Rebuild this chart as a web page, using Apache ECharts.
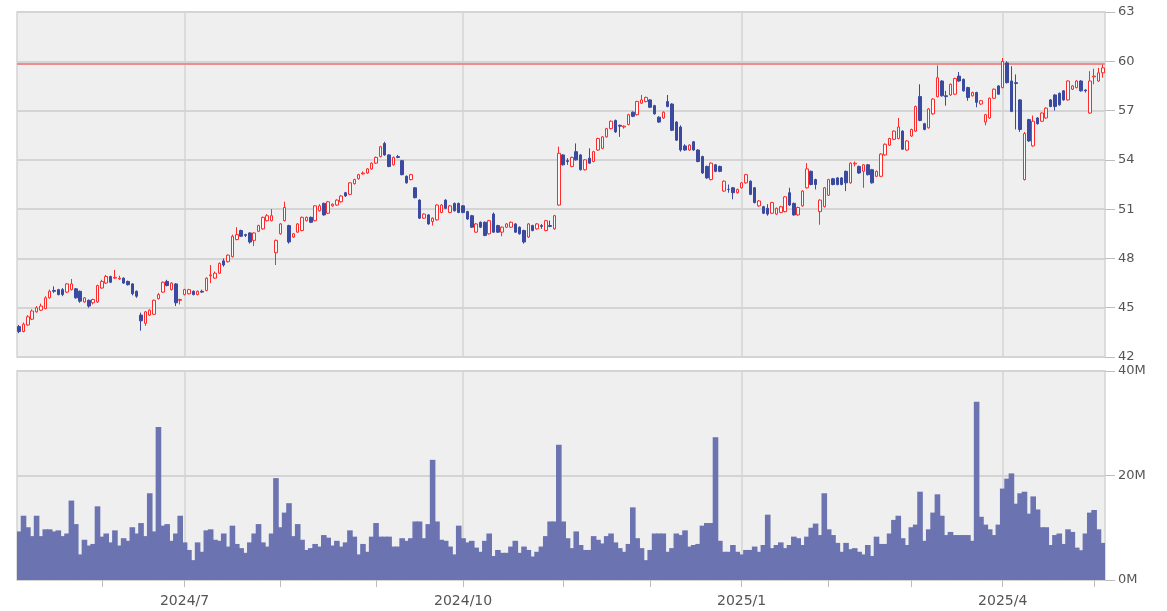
<!DOCTYPE html>
<html>
<head>
<meta charset="utf-8">
<script src="https://cdn.jsdelivr.net/npm/echarts@6/dist/echarts.min.js"></script>
<style>
  html, body { margin: 0; padding: 0; background: #ffffff; }
  #chart { width: 1167px; height: 611px; }
</style>
</head>
<body>
<div id="chart"></div>
<script>
// ---------- data ----------
const firstDay = '2024-05-06';
const lastDay = '2025-05-05';
const marketHolidays = ['2024-05-27','2024-06-19','2024-07-04','2024-09-02','2024-11-28','2024-12-25',
  '2025-01-01','2025-01-09','2025-01-20','2025-02-17','2025-04-18'];

// [open, close, low, high]
const ohlc = [
  [43.85,43.55,43.45,43.95],[43.55,44.0,43.5,44.1],[43.95,44.45,43.9,44.55],[44.3,44.8,44.25,44.9],[44.75,45.0,44.7,45.1],
  [44.85,45.1,44.8,45.25],[44.95,45.6,44.9,45.7],[45.6,46.0,45.55,46.1],[46.05,46.0,45.9,46.3],[46.1,45.8,45.75,46.15],
  [46.1,45.8,45.7,46.2],[45.95,46.45,45.9,46.5],[46.1,46.45,46.05,46.75],[46.15,45.6,45.55,46.2],[46.0,45.4,45.3,46.05],
  [45.35,45.6,45.3,45.65],[45.45,45.1,45.0,45.5],[45.3,45.5,45.2,45.55],[45.35,46.35,45.3,46.4],[46.2,46.6,46.15,46.7],
  [46.5,46.9,46.45,47.0],[46.9,46.55,46.5,46.95],[46.8,46.85,46.75,47.3],[46.75,46.8,46.7,46.95],[46.8,46.5,46.45,46.85],
  [46.6,46.4,46.35,46.65],[46.45,45.85,45.75,46.5],[46.0,45.7,45.6,46.05],[44.55,44.2,43.6,44.7],[44.05,44.75,43.9,44.8],
  [44.55,44.85,44.5,44.9],[44.6,45.45,44.55,45.5],[45.55,45.8,45.5,45.9],[45.95,46.55,45.9,46.6],[46.6,46.35,46.3,46.7],
  [46.1,46.5,46.05,46.55],[46.45,45.3,45.1,46.5],[45.45,45.5,45.2,45.55],[45.8,46.1,45.75,46.15],[45.85,46.1,45.8,46.15],
  [46.0,45.8,45.75,46.05],[45.8,46.0,45.75,46.05],[46.0,45.95,45.9,46.1],[46.05,46.8,46.0,46.85],[46.95,47.0,46.5,47.6],
  [46.8,47.1,46.75,47.2],[47.1,47.7,47.05,47.75],[47.85,47.6,47.5,48.0],[47.8,48.2,47.75,48.25],[48.1,49.35,48.05,49.45],
  [49.15,49.45,49.1,49.9],[49.7,49.35,49.3,49.75],[49.45,49.4,49.3,49.5],[49.55,49.0,48.9,49.6],[49.1,49.55,48.75,49.6],
  [49.65,50.0,49.6,50.05],[49.8,50.5,49.75,50.55],[50.3,50.6,50.25,50.7],[50.3,50.6,50.25,51.0],[48.35,49.1,47.6,49.15],
  [49.5,50.1,49.45,50.15],[50.3,51.1,50.25,51.45],[50.0,49.0,48.9,50.05],[49.3,49.5,49.25,49.55],[49.6,50.1,49.55,50.15],
  [49.7,50.5,49.65,50.55],[50.3,50.5,50.25,50.55],[50.5,50.2,50.15,50.55],[50.3,51.2,50.25,51.25],[50.9,51.2,50.85,51.3],
  [51.35,50.65,50.6,51.4],[50.75,51.45,50.7,51.5],[51.2,51.3,51.15,51.35],[51.25,51.55,51.2,51.6],[51.45,51.8,51.4,51.85],
  [52.0,51.8,51.75,52.05],[51.9,52.6,51.85,52.65],[52.55,52.8,52.5,52.85],[52.85,53.1,52.8,53.15],[53.15,53.2,53.1,53.3],
  [53.2,53.45,53.15,53.5],[53.45,53.8,53.4,53.85],[53.8,54.15,53.75,54.2],[54.2,54.8,54.15,54.85],[55.0,54.3,54.25,55.1],
  [54.3,53.6,53.55,54.35],[53.7,54.15,53.65,54.2],[54.2,54.15,54.1,54.3],[53.95,53.1,53.05,54.0],[53.0,52.6,52.55,53.05],
  [52.8,53.1,52.75,53.15],[52.3,51.7,51.65,52.35],[51.55,50.45,50.4,51.6],[50.45,50.7,50.4,50.75],[50.65,50.1,50.05,50.7],
  [50.25,50.45,50.0,50.5],[50.35,51.25,50.3,51.3],[50.8,51.25,50.75,51.3],[51.55,51.05,51.0,51.6],[50.8,51.2,50.75,51.25],
  [51.35,50.9,50.85,51.4],[51.35,50.8,50.75,51.4],[51.2,50.8,50.75,51.25],[50.85,50.4,50.35,50.9],[50.6,49.9,49.85,50.65],
  [49.6,50.1,49.55,50.15],[50.2,49.9,49.85,50.25],[50.2,49.4,49.35,50.25],[49.5,50.3,49.45,50.35],[50.7,49.6,49.55,50.8],
  [50.0,49.6,49.55,50.05],[49.6,49.9,49.35,49.95],[49.9,50.1,49.85,50.15],[49.9,50.2,49.85,50.25],[50.1,49.6,49.55,50.15],
  [49.9,49.5,49.45,49.95],[49.7,49.0,48.9,49.75],[49.3,50.1,49.25,50.15],[50.0,49.7,49.65,50.05],[49.8,50.1,49.75,50.15],
  [50.0,49.95,49.8,50.1],[49.7,50.3,49.65,50.35],[50.0,49.95,49.9,50.3],[49.8,50.6,49.75,50.65],[51.25,54.4,51.2,54.8],
  [54.3,53.7,53.65,54.35],[53.95,53.9,53.7,54.1],[53.6,54.15,53.55,54.2],[54.5,54.0,53.95,55.0],[54.3,53.4,53.35,54.35],
  [53.4,54.0,53.35,54.05],[54.1,53.8,53.75,54.7],[53.9,54.5,53.85,54.55],[54.6,55.3,54.55,55.35],[54.7,55.4,54.65,55.45],
  [55.4,55.9,55.35,55.95],[55.9,56.35,55.85,56.4],[56.4,55.7,55.65,56.45],[56.1,56.05,55.4,56.15],[56.0,56.05,55.9,56.1],
  [56.15,56.75,56.1,56.8],[56.9,56.65,56.6,56.95],[56.75,57.55,56.7,57.6],[57.45,57.65,57.4,57.95],[57.55,57.8,57.5,57.85],
  [57.65,57.2,57.15,57.7],[57.3,56.8,56.75,57.35],[56.6,56.3,56.25,56.65],[56.55,56.9,56.5,56.95],[57.55,57.25,57.2,57.95],
  [57.4,55.8,55.75,57.45],[56.3,55.2,55.15,56.35],[56.0,54.6,54.5,56.1],[54.85,54.6,54.55,54.95],[54.6,54.9,54.55,54.95],
  [55.1,54.6,54.55,55.15],[54.6,53.9,53.85,54.65],[54.2,53.2,53.15,54.25],[53.6,52.9,52.85,53.65],[52.8,53.8,52.75,53.85],
  [53.7,53.3,53.25,53.75],[53.6,53.3,53.25,53.65],[52.1,52.7,52.05,52.75],[52.2,52.2,52.0,52.5],[52.3,52.0,51.6,52.35],
  [52.0,52.2,51.95,52.25],[52.3,52.6,52.25,52.65],[52.6,53.1,52.55,53.15],[52.7,51.9,51.85,52.75],[52.3,51.4,51.35,52.35],
  [51.2,51.5,51.15,51.55],[51.15,50.75,50.7,51.2],[51.05,50.7,50.6,51.3],[50.75,51.4,50.7,51.45],[50.7,51.05,50.65,51.1],
  [50.8,51.15,50.75,51.2],[50.85,51.75,50.8,51.8],[52.0,51.25,51.2,52.3],[51.35,50.65,50.6,51.4],[50.65,51.1,50.6,51.15],
  [51.2,52.1,51.15,52.15],[52.3,53.45,52.25,53.8],[53.3,52.5,52.45,53.35],[52.8,52.5,52.2,52.85],[50.85,51.55,50.05,51.6],
  [51.15,52.3,51.1,52.35],[51.85,52.8,51.8,52.85],[52.85,52.5,52.45,52.9],[52.9,52.5,52.45,52.95],[52.9,52.5,52.45,52.95],
  [53.3,52.6,52.1,53.35],[52.6,53.8,52.55,53.85],[53.75,53.8,53.6,53.9],[53.6,53.2,53.15,53.65],[53.3,53.7,52.3,53.75],
  [53.7,53.1,53.05,53.75],[53.4,52.6,52.55,53.45],[53.0,53.3,52.95,53.35],[53.0,54.35,52.95,54.4],[54.3,54.95,54.25,55.0],
  [54.9,55.3,54.85,55.35],[55.25,55.75,55.2,55.8],[55.3,56.0,55.25,56.55],[55.75,54.65,54.6,55.8],[54.6,55.15,54.55,55.2],
  [55.45,55.85,55.4,55.9],[55.75,57.25,55.7,57.3],[57.85,56.4,56.35,58.6],[56.2,55.85,55.8,56.25],[55.95,57.1,55.9,57.15],
  [56.8,57.7,56.75,57.75],[57.85,59.0,57.8,59.75],[58.8,57.9,57.85,58.85],[57.9,57.85,57.3,58.2],[57.95,58.6,57.9,58.65],
  [58.0,58.95,57.95,59.0],[59.1,58.8,58.75,59.35],[58.9,58.2,58.15,58.95],[58.4,57.8,57.6,58.45],[57.9,58.1,57.85,58.15],
  [58.1,57.5,57.2,58.15],[57.4,57.6,57.35,57.65],[56.3,56.75,56.1,56.8],[56.55,57.75,56.5,57.8],[57.75,58.3,57.7,58.35],
  [58.5,58.0,57.95,58.55],[58.4,60.0,58.35,60.2],[59.9,58.7,58.65,60.0],[58.8,56.95,56.9,59.7],[58.7,58.65,55.85,59.2],
  [57.65,55.85,55.7,57.7],[52.8,55.6,52.75,55.7],[56.45,55.15,55.1,56.5],[54.85,56.35,54.8,56.7],[56.55,56.2,56.15,56.6],
  [56.35,56.85,56.3,56.9],[56.55,57.15,56.5,57.2],[57.65,57.25,57.2,57.7],[57.95,57.25,57.0,58.0],[58.05,57.35,57.3,58.1],
  [58.2,57.65,57.6,58.25],[57.65,58.8,57.6,58.85],[58.3,58.5,58.25,58.55],[58.4,58.8,58.35,58.85],[58.8,58.2,58.15,58.85],
  [58.25,58.2,58.1,58.3],[56.85,58.8,56.8,59.4],[59.05,59.1,58.6,59.55],[58.8,59.3,58.75,59.6],[59.3,59.6,59.0,59.8],
  [59.6,59.86,59.4,60.05]
];

// volume in millions
const volumeM = [
  9.3,12.3,10.1,8.4,12.3,8.4,9.7,9.7,9.3,9.5,
  8.4,8.9,15.2,10.7,4.9,7.7,6.6,6.9,14.1,8.3,
  8.9,7.2,9.5,6.6,8.0,7.5,10.1,8.9,10.9,8.4,
  16.6,9.3,29.3,10.4,10.7,7.5,8.9,12.3,7.2,5.75,
  3.8,7.2,5.4,9.5,9.7,7.7,7.5,8.9,6.4,10.4,
  6.9,6.1,5.2,7.2,8.9,10.7,7.2,6.4,8.9,19.5,
  10.1,12.9,14.7,8.4,10.7,7.7,5.75,6.1,6.9,6.4,
  8.6,8.1,6.6,7.5,6.4,7.2,9.5,8.3,4.9,6.9,
  5.4,8.3,10.9,8.3,8.3,8.3,6.4,6.4,
  8.0,7.5,8.0,11.2,11.2,8.0,10.7,23.0,11.2,7.7,
  7.5,6.4,4.9,10.4,8.0,7.2,7.5,6.2,5.4,7.5,
  8.9,4.6,5.75,5.2,5.2,6.4,7.5,5.2,6.4,5.75,
  4.5,5.4,6.4,8.4,11.2,11.2,25.9,11.2,8.0,6.1,
  9.3,6.7,5.75,5.75,8.4,7.7,7.0,8.4,8.9,7.2,
  6.1,5.4,6.9,13.9,8.0,6.1,3.8,5.75,8.9,8.9,
  8.9,5.4,6.1,8.9,8.6,9.5,6.4,6.7,6.9,10.4,
  10.9,10.9,27.3,7.5,5.4,5.4,6.7,5.4,4.9,5.75,
  5.75,6.4,5.4,6.7,12.5,6.1,6.7,7.2,
  6.1,6.7,8.3,8.0,6.7,8.3,10.0,10.8,8.6,16.6,
  9.7,8.6,7.1,5.4,7.1,5.9,6.1,5.4,4.9,6.7,
  4.6,8.3,6.9,6.9,8.9,11.5,12.3,8.0,6.7,10.1,
  10.6,16.9,7.5,9.7,12.9,16.4,12.3,8.6,9.2,8.6,
  8.6,8.6,8.6,7.5,34.1,12.1,10.6,9.7,8.6,10.6,
  17.5,19.4,20.4,14.6,16.6,16.9,12.7,16.0,13.5,10.1,
  10.1,6.7,8.6,8.9,6.9,9.7,9.2,6.2,5.7,8.9,
  12.9,13.4,9.7,7.1,6.9
];

const priceRefLine = 59.86;
const priceAxis = { min: 42, max: 63, interval: 3 };
const volumeAxis = { min: 0, max: 40, interval: 20, unit: 'M' };

// ---------- categories (trading days) ----------
function buildTradingDays(from, to, holidays) {
  const out = [];
  const hol = new Set(holidays);
  const d = new Date(from + 'T00:00:00Z');
  const end = new Date(to + 'T00:00:00Z');
  while (d <= end) {
    const wd = d.getUTCDay();
    const s = d.toISOString().slice(0, 10);
    if (wd !== 0 && wd !== 6 && !hol.has(s)) out.push(s);
    d.setUTCDate(d.getUTCDate() + 1);
  }
  return out;
}
const dates = buildTradingDays(firstDay, lastDay, marketHolidays);
const monthStart = dates.map((s, i) => i > 0 && s.slice(0, 7) !== dates[i - 1].slice(0, 7));
const quarterStart = dates.map((s, i) => monthStart[i] && [1, 4, 7, 10].includes(+s.slice(5, 7)));
const quarterDates = dates.filter((s, i) => quarterStart[i]);

// ---------- chart ----------
const GRID_BG = '#efefef';
const LINE = '#d4d4d4';
const TXT = '#555555';
const VOL = '#6b73b0';
const vLines = quarterDates.map((d) => ({ xAxis: d }));
const vLineStyle = { color: LINE, width: 1.5, type: 'solid' };

const chart = echarts.init(document.getElementById('chart'), null, { renderer: 'canvas' });
chart.setOption({
  animation: false,
  textStyle: { fontFamily: 'DejaVu Sans' },
  grid: [
    { left: 17, right: 62, top: 12, height: 345, show: true, backgroundColor: GRID_BG,
      borderColor: LINE, borderWidth: 1.5, outerBoundsMode: 'none' },
    { left: 17, right: 62, top: 371, height: 209, show: true, backgroundColor: GRID_BG,
      borderColor: LINE, borderWidth: 1.5, outerBoundsMode: 'none' }
  ],
  xAxis: [
    { type: 'category', gridIndex: 0, data: dates, boundaryGap: true,
      axisLine: { show: false }, axisTick: { show: false }, axisLabel: { show: false },
      splitLine: { show: false } },
    { type: 'category', gridIndex: 1, data: dates, boundaryGap: true,
      axisLine: { show: false },
      axisTick: { show: true, alignWithLabel: true, interval: (i) => monthStart[i], length: 7,
        lineStyle: { color: '#bdbdbd', width: 1 } },
      axisLabel: { show: true, interval: (i) => quarterStart[i],
        color: TXT, fontSize: 14, margin: 14,
        formatter: (v) => v.slice(0, 4) + '/' + (+v.slice(5, 7)) },
      splitLine: { show: false } }
  ],
  yAxis: [
    { type: 'value', gridIndex: 0, position: 'right', min: priceAxis.min, max: priceAxis.max, interval: priceAxis.interval,
      axisLine: { show: false },
      axisTick: { show: true, length: 10, lineStyle: { color: '#bdbdbd' } },
      axisLabel: { color: TXT, fontSize: 13, margin: 13 },
      splitLine: { show: true, lineStyle: { color: LINE, width: 2 } } },
    { type: 'value', gridIndex: 1, position: 'right', min: volumeAxis.min, max: volumeAxis.max, interval: volumeAxis.interval,
      axisLine: { show: false },
      axisTick: { show: true, length: 10, lineStyle: { color: '#bdbdbd' } },
      axisLabel: { color: TXT, fontSize: 13, margin: 13, formatter: (v) => v + volumeAxis.unit },
      splitLine: { show: true, lineStyle: { color: LINE, width: 2 } } }
  ],
  series: [
    { type: 'candlestick', xAxisIndex: 0, yAxisIndex: 0, data: ohlc, barWidth: 3,
      itemStyle: { color: '#fbfbfb', color0: '#3a4aa0', borderColor: '#ff2b2b', borderColor0: '#3a4aa0', borderWidth: 1 },
      markLine: { silent: true, symbol: 'none', z: 1, label: { show: false }, animation: false,
        data: vLines.map((v) => Object.assign({ lineStyle: vLineStyle }, v)).concat([
          { yAxis: priceRefLine, lineStyle: { color: '#f08c8c', width: 2, type: 'solid' } }
        ]) } },
    { type: 'bar', xAxisIndex: 1, yAxisIndex: 1, data: volumeM, barWidth: 5.6, barGap: '-100%',
      itemStyle: { color: VOL },
      markLine: { silent: true, symbol: 'none', z: 1, label: { show: false }, animation: false,
        lineStyle: vLineStyle, data: vLines } }
  ]
});
</script>
</body>
</html>
